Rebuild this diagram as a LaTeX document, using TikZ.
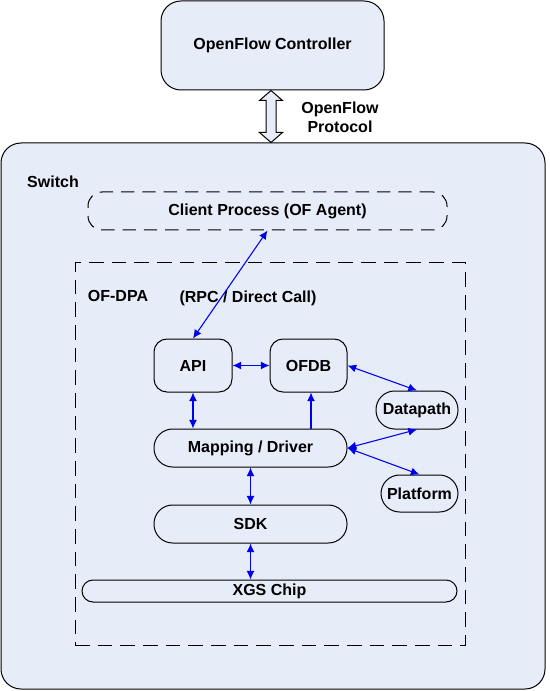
\documentclass[tikz,border=0pt]{standalone}
\usepackage{fontspec}
\setmainfont{Liberation Sans}
\usetikzlibrary{arrows.meta,calc}

\definecolor{boxfill}{RGB}{231,237,248}
\definecolor{linkblue}{RGB}{0,0,240}

\begin{document}
\begin{tikzpicture}[x=0.75pt,y=-0.75pt,
        font=\fontsize{12}{14.25}\selectfont\bfseries,
        block/.style={draw, line width=0.75pt, rounded corners=9.75pt, inner sep=0pt},
        pill/.style={block, rounded corners=14pt},
        link/.style={linkblue, line width=0.8pt, {Latex[length=6.5pt,width=6pt]}-{Latex[length=6.5pt,width=6pt]}},
        uplink/.style={linkblue, line width=0.8pt, -{Latex[length=6.5pt,width=6pt]}}]
        \useasboundingbox (0,0) rectangle (549,691);

        \node[block, fill=boxfill, rounded corners=15pt, minimum width=167.25pt, minimum height=66.75pt] (ctrl) at (272.5,45.5) {OpenFlow Controller};
        \node[block, fill=boxfill, rounded corners=15pt, minimum width=408pt, minimum height=409.5pt] (sw) at (273,416) {};
        \node (swlabel) at (53,182) {Switch};

        \coordinate (pa) at (271,0 |- ctrl.south);
        \coordinate (pb) at (271,0 |- sw.north);
        \draw[line width=0.75pt, fill=boxfill] (pa) -- ++(11.5,10) -- ++(-6.5,0) -- ($(pb)+(5,-10)$) -- ++(6.5,0) -- (pb)
            -- ++(-11.5,-10) -- ++(6.5,0) -- ($(pa)+(-5,10)$) -- ++(-6.5,0) -- cycle;
        \node[align=center] (proto) at (340,117.5) {OpenFlow\\Protocol};

        \node[block, dash pattern=on 10pt off 6pt, rounded corners=10.5pt, minimum width=269.25pt, minimum height=28.5pt] (client) at (267.5,211) {Client Process (OF Agent)};

        \node[draw, line width=0.75pt, dash pattern=on 11pt off 6pt, minimum width=292.5pt, minimum height=286.5pt] (ofdpa) at (270,454) {};
        \node (dpalabel) at (118,296) {OF-DPA};
        \node (rpc) at (248,298) {(RPC / Direct Call)};

        \node[block, minimum width=58.5pt, minimum height=39.75pt] (api) at (193,365.5) {API};
        \node[block, minimum width=57.75pt, minimum height=39.75pt] (ofdb) at (308.5,365.5) {OFDB};
        \node[pill, minimum width=61.5pt, minimum height=28.5pt] (datapath) at (417,410) {Datapath};
        \node[pill, minimum width=144.75pt, minimum height=28.5pt] (mapping) at (250.5,448) {Mapping / Driver};
        \node[pill, minimum width=57.75pt, minimum height=27.75pt] (platform) at (419.5,493.5) {Platform};
        \node[pill, minimum width=144.75pt, minimum height=28.5pt] (sdk) at (250.5,524) {SDK};
        \node[block, rounded corners=8.25pt, minimum width=281.25pt, minimum height=16.5pt] (xgs) at (269.5,591) {XGS Chip};

        \draw[link] (api.north) -- (client.south);
        \draw[link] (api.east) -- (ofdb.west);
        \draw[link] (ofdb.east) -- (datapath.north);
        \draw[link] (api.south) -- (api.south |- mapping.north);
        \draw[uplink] ($(ofdb.south |- mapping.north)+(2.5,0)$) -- ($(ofdb.south)+(2.5,0)$);
        \draw[link] (mapping.east) -- (datapath.south);
        \draw[link] (mapping.east) -- (platform.north);
        \draw[link] (mapping.south) -- (sdk.north);
        \draw[link] (sdk.south) -- (sdk.south |- xgs.north);
      \end{tikzpicture}
\end{document}
